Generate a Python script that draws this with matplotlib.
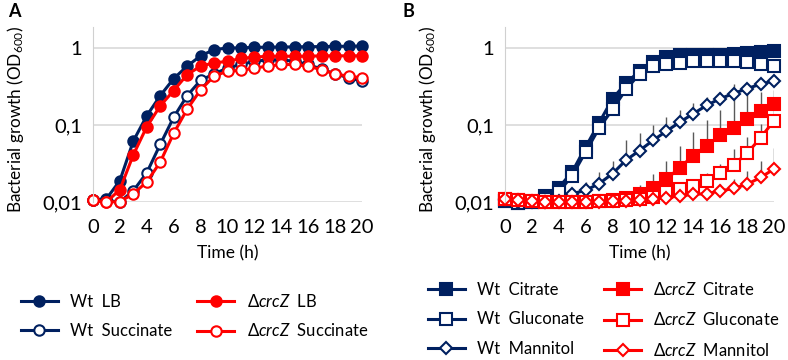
import numpy as np
import matplotlib
matplotlib.use("Agg")
from matplotlib import pyplot as plt
from matplotlib.ticker import FixedLocator, NullLocator

plt.rcParams['font.family'] = ['Lato', 'DejaVu Sans']
plt.rcParams['mathtext.fontset'] = 'custom'
plt.rcParams['mathtext.rm'] = 'Lato'
plt.rcParams['mathtext.it'] = 'Lato:italic'

navy = '#002060'
red = '#FF0000'

t = list(range(21))

# panel A
wt_lb = [0.0107, 0.011, 0.019, 0.062, 0.132, 0.24, 0.40, 0.58, 0.79, 0.95, 1.0,
         1.0, 1.02, 1.02, 1.03, 1.03, 1.04, 1.04, 1.05, 1.05, 1.06]
wt_succ = [0.0107, 0.0105, 0.010, 0.014, 0.024, 0.056, 0.126, 0.24, 0.38, 0.46, 0.55,
           0.61, 0.67, 0.70, 0.70, 0.67, 0.61, 0.53, 0.46, 0.41, 0.37]
dc_lb = [0.0105, 0.010, 0.0145, 0.041, 0.095, 0.177, 0.28, 0.45, 0.58, 0.64, 0.67,
         0.73, 0.76, 0.78, 0.78, 0.78, 0.78, 0.79, 0.79, 0.79, 0.79]
dc_succ = [0.0105, 0.010, 0.0101, 0.0128, 0.0182, 0.033, 0.078, 0.16, 0.286, 0.43, 0.50,
           0.51, 0.55, 0.58, 0.61, 0.61, 0.58, 0.52, 0.46, 0.43, 0.41]

# panel B
wt_cit = [0.0103, 0.0098, 0.0100, 0.012, 0.0154, 0.0247, 0.052, 0.107, 0.22, 0.35, 0.50,
          0.65, 0.76, 0.80, 0.82, 0.82, 0.82, 0.84, 0.86, 0.88, 0.90]
wt_glu = [0.0103, 0.0098, 0.0100, 0.011, 0.0135, 0.022, 0.045, 0.091, 0.16, 0.29, 0.46,
          0.58, 0.61, 0.635, 0.67, 0.67, 0.67, 0.67, 0.65, 0.62, 0.59]
wt_man = [0.0105, 0.0101, 0.0099, 0.0101, 0.0103, 0.0128, 0.0142, 0.0173, 0.0234, 0.035, 0.0465,
          0.063, 0.083, 0.109, 0.14, 0.18, 0.22, 0.256, 0.297, 0.338, 0.374]
dc_cit = [0.011, 0.0106, 0.0103, 0.010, 0.010, 0.010, 0.010, 0.0103, 0.0105, 0.0114, 0.0126,
          0.015, 0.0198, 0.028, 0.040, 0.054, 0.073, 0.092, 0.12, 0.152, 0.187]
dc_glu = [0.011, 0.0106, 0.0103, 0.010, 0.010, 0.010, 0.010, 0.0103, 0.0103, 0.0106, 0.011,
          0.0116, 0.0133, 0.0147, 0.0162, 0.0188, 0.0235, 0.0305, 0.043, 0.068, 0.114]
dc_man = [0.011, 0.0106, 0.0103, 0.010, 0.0099, 0.010, 0.0099, 0.010, 0.0103, 0.0103, 0.0106,
          0.0108, 0.0114, 0.012, 0.0126, 0.0128, 0.0139, 0.015, 0.017, 0.0208, 0.0268]

# upper error bars (panel B)
err_wt_man = [0, 0, 0, 0, 0, 0.002, 0.004, 0.007, 0.011, 0.028, 0.032,
              0.037, 0.043, 0.046, 0.05, 0.05, 0.05, 0.05, 0.05, 0.05, 0.05]
err_dc_cit = [0, 0, 0, 0, 0, 0, 0, 0, 0.001, 0.002, 0.004,
              0.008, 0.014, 0.026, 0.041, 0.063, 0.082, 0.246, 0.21, 0.118, 0.1]
err_dc_glu = [0, 0, 0, 0, 0, 0, 0, 0, 0, 0, 0.001,
              0.001, 0.002, 0.002, 0.003, 0.005, 0.008, 0.018, 0.026, 0.036, 0.05]
err_dc_man = [0, 0, 0, 0, 0, 0, 0, 0, 0, 0, 0,
              0.001, 0.001, 0.001, 0.002, 0.002, 0.003, 0.005, 0.008, 0.013, 0.023]

fig = plt.figure(figsize=(7.88, 3.6), dpi=100)
axA = fig.add_axes([93/788, 1-202/360, 269/788, 175/360])
axB = fig.add_axes([505/788, 1-202/360, 269/788, 175/360])


def style(ax):
    ax.set_yscale('log')
    ax.set_xlim(0, 20)
    ax.set_ylim(0.01, 1.87)
    ax.yaxis.set_major_locator(FixedLocator([0.01, 0.1, 1]))
    ax.yaxis.set_minor_locator(NullLocator())
    ax.set_yticklabels(['0,01', '0,1', '1'])
    ax.set_xticks(range(0, 21, 2))
    ax.tick_params(length=0, labelsize=14.5, pad=8)
    ax.tick_params(axis='x', pad=12)
    for s in ['top', 'right', 'bottom']:
        ax.spines[s].set_visible(False)
    ax.spines['left'].set_color('#D0D0D0')
    ax.grid(axis='y', color='#D9D9D9', lw=1.2)
    ax.set_axisbelow(True)
    ax.set_ylabel('Bacterial growth (OD$_{600}$)', fontsize=12.3)
    ax.yaxis.set_label_coords(-0.25, 0.47)
    ax.set_xlabel('Time (h)', fontsize=12.5)
    ax.xaxis.set_label_coords(0.5, -0.25)


style(axA)
style(axB)

kw = dict(lw=2.2, clip_on=False, markeredgewidth=1.5)
hA = []
hA += axA.plot(t, wt_lb, color=navy, marker='o', ms=7.5, label='Wt  LB', **kw)
hA += axA.plot(t, wt_succ, color=navy, marker='o', ms=7.5, mfc='white', label='Wt  Succinate', **kw)
hA += axA.plot(t, dc_lb, color=red, marker='o', ms=7.5, label=r'$\Delta\mathit{crcZ}$  LB', **kw)
hA += axA.plot(t, dc_succ, color=red, marker='o', ms=7.5, mfc='white', label=r'$\Delta\mathit{crcZ}$  Succinate', **kw)

zero = np.zeros(21)
for y, e in [(wt_man, err_wt_man), (dc_cit, err_dc_cit), (dc_glu, err_dc_glu), (dc_man, err_dc_man)]:
    axB.errorbar(t, y, yerr=[zero, e], fmt='none', ecolor='#595959', elinewidth=1, capsize=0, zorder=1.5)

hB = []
hB += axB.plot(t, wt_cit, color=navy, marker='s', ms=8, label='Wt  Citrate', **kw)
hB += axB.plot(t, wt_glu, color=navy, marker='s', ms=8, mfc='white', label='Wt  Gluconate', **kw)
hB += axB.plot(t, wt_man, color=navy, marker='D', ms=6.5, mfc='white', label='Wt  Mannitol', **kw)
hB += axB.plot(t, dc_cit, color=red, marker='s', ms=8, label=r'$\Delta\mathit{crcZ}$  Citrate', **kw)
hB += axB.plot(t, dc_glu, color=red, marker='s', ms=8, mfc='white', label=r'$\Delta\mathit{crcZ}$  Gluconate', **kw)
hB += axB.plot(t, dc_man, color=red, marker='D', ms=6.5, mfc='white', label=r'$\Delta\mathit{crcZ}$  Mannitol', **kw)

leg_kw = dict(loc='upper left', ncol=2, frameon=False, fontsize=12, handlelength=2.2,
              handletextpad=0.75, borderaxespad=0, borderpad=0)
fig.legend(handles=hA, bbox_to_anchor=(21/788, 1-293/360), columnspacing=1.5,
           labelspacing=0.75, **leg_kw)
fig.legend(handles=hB, bbox_to_anchor=(428/788, 1-281/360), columnspacing=1.2,
           labelspacing=0.8, **leg_kw)

fig.text(8/788, 1-3/360, 'A', fontsize=13, fontweight='bold', va='top')
fig.text(402/788, 1-3/360, 'B', fontsize=13, fontweight='bold', va='top')

fig.savefig('out.png', dpi=100)
